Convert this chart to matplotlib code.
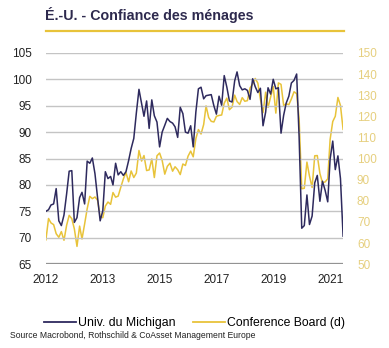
import matplotlib
matplotlib.use("Agg")
import matplotlib.pyplot as plt
import pandas as pd
from matplotlib.lines import Line2D

plt.rcParams['font.family'] = ['Liberation Sans', 'DejaVu Sans']

# Monthly data, Jan 2012 - Aug 2021
michigan = [
    75.0, 75.3, 76.2, 76.4, 79.3, 73.2, 72.3, 74.3, 78.3, 82.6, 82.7, 72.9,
    73.8, 77.6, 78.6, 76.4, 84.5, 84.1, 85.1, 82.1, 77.5, 73.2, 75.1, 82.5,
    81.2, 81.6, 80.0, 84.1, 81.9, 82.5, 81.8, 82.5, 84.6, 86.9, 88.8, 93.6,
    98.1, 95.4, 93.0, 95.9, 90.7, 96.1, 93.1, 91.9, 87.2, 90.0, 91.3, 92.6,
    92.0, 91.7, 91.0, 89.0, 94.7, 93.5, 90.0, 89.8, 91.2, 87.2, 93.8, 98.2,
    98.5, 96.3, 96.9, 97.0, 97.1, 95.0, 93.4, 96.8, 95.1, 100.7, 98.5, 95.9,
    95.7, 99.7, 101.4, 98.8, 98.0, 98.2, 97.9, 96.2, 100.1, 98.6, 97.5, 98.3,
    91.2, 93.8, 98.4, 97.2, 100.0, 98.2, 98.4, 89.8, 93.2, 95.5, 96.8, 99.3,
    99.8, 101.0, 89.1, 71.8, 72.3, 78.1, 72.5, 74.1, 80.4, 81.8, 76.9, 80.7,
    79.0, 76.8, 84.9, 88.3, 82.9, 85.5, 81.2, 70.3,
]
conference_board = [
    61.5, 71.6, 69.5, 68.7, 64.4, 62.7, 65.4, 61.3, 68.4, 73.1, 71.5, 66.7,
    58.4, 68.0, 61.9, 69.0, 76.2, 82.1, 81.0, 81.8, 80.2, 72.4, 72.0, 77.5,
    79.4, 78.3, 83.9, 81.7, 82.2, 86.4, 90.3, 93.4, 89.0, 94.1, 91.0, 93.1,
    103.8, 98.8, 101.4, 94.3, 94.6, 99.8, 91.0, 101.3, 102.6, 99.1, 92.6, 96.3,
    97.8, 94.0, 96.1, 94.7, 92.4, 97.4, 96.7, 101.1, 103.5, 100.8, 109.4, 113.7,
    111.6, 116.1, 124.9, 119.4, 117.6, 117.3, 120.0, 120.4, 120.6, 126.2, 128.6, 123.1,
    124.3, 130.0, 127.0, 125.6, 128.8, 127.1, 127.4, 133.4, 135.3, 137.9, 135.7, 128.1,
    121.7, 131.4, 124.2, 129.2, 134.1, 121.5, 135.8, 135.1, 125.1, 125.9, 125.5, 128.2,
    131.6, 130.7, 118.8, 85.7, 85.9, 98.3, 91.7, 86.3, 101.3, 101.4, 92.9, 88.6,
    88.9, 90.4, 109.0, 117.5, 120.0, 128.9, 125.1, 113.8,
]
dates = pd.date_range("2012-01-01", periods=len(michigan), freq="MS")
tick_dates = dates[::22]
tick_labels = ["2012", "2013", "2015", "2017", "2019", "2021"]
left_ticks = [65, 70, 75, 80, 85, 90, 95, 100, 105]
right_ticks = [50, 60, 70, 80, 90, 100, 110, 120, 130, 140, 150]

navy = "#2e2a5e"
gold = "#e8c33a"
gold_text = "#e6cf7e"

fig = plt.figure(figsize=(3.89, 3.48), dpi=100)
ax = fig.add_axes([0.118, 0.241, 0.764, 0.607])
ax2 = ax.twinx()

ax.plot(dates, michigan, color=navy, lw=1.1, zorder=3)
ax2.plot(dates, conference_board, color=gold, lw=1.1, zorder=2)
ax.set_zorder(ax2.get_zorder() + 1)
ax.patch.set_visible(False)

ax.set_ylim(65, 105)
ax.set_yticks(left_ticks)
ax2.set_ylim(50, 150)
ax2.set_yticks(right_ticks)
ax.set_xlim(dates[0], dates[-1])
ax.set_xticks(tick_dates)
ax.set_xticklabels(tick_labels)

for a in (ax, ax2):
    for s in a.spines.values():
        s.set_visible(False)
ax.grid(axis="y", color="#c4c4c4", lw=1.0)
ax.axhline(65, color="#888888", lw=1.6, zorder=1)
ax.tick_params(axis="both", length=0, labelsize=8.5, colors="#222222")
ax.tick_params(axis="y", pad=10)
ax.tick_params(axis="x", pad=7)
ax2.tick_params(axis="y", length=0, labelsize=8.5, colors=gold_text, pad=10)

fig.text(0.116, 0.935, "É.-U. - Confiance des ménages", fontsize=10.3,
         fontweight="bold", color="#2e2a4e", ha="left", va="bottom")
fig.add_artist(Line2D([0.118, 0.884], [0.911, 0.911], color=gold, lw=1.6))

handles = [Line2D([], [], color=navy, lw=1.3), Line2D([], [], color=gold, lw=1.3)]
fig.legend(handles, ["Univ. du Michigan", "Conference Board (d)"], loc="center",
           bbox_to_anchor=(0.5, 0.072), ncol=2, frameon=False, fontsize=8.8,
           handlelength=2.6, handletextpad=0.2, columnspacing=1.4)

fig.text(0.025, 0.035, "Source Macrobond, Rothschild & CoAsset Management Europe",
         fontsize=6.2, color="#222222", ha="left", va="center")

fig.savefig("out.png", dpi=100)
